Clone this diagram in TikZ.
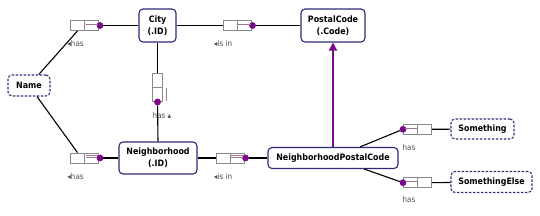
\documentclass[tikz,border=0pt]{standalone}
\usepackage{fontspec}
\setmainfont{DejaVu Sans Condensed}
\usetikzlibrary{arrows.meta}
\definecolor{entb}{HTML}{2B2B7A}
\definecolor{valb}{HTML}{3A2A70}
\definecolor{ormpurple}{HTML}{7A0A8A}
\definecolor{rolegray}{HTML}{8A8A8A}
\definecolor{ucbar}{HTML}{A07896}
\definecolor{lblgray}{HTML}{505050}
\newcommand{\rdl}{{\fontsize{8}{8}\selectfont\raisebox{0.3pt}{◂}}}
\newcommand{\rdu}{{\fontsize{8}{8}\selectfont▴}}
\begin{document}
\begin{tikzpicture}[x=1pt,y=-1pt,
  entity/.style={draw=entb,line width=1.1pt,rounded corners=4pt,fill=white,inner sep=0pt,align=center,font=\fontsize{8.8}{12}\selectfont\bfseries},
  valtype/.style={entity,draw=valb,dashed,dash pattern=on 2.5pt off 1.5pt},
  rolebox/.style={draw=rolegray,line width=0.8pt,fill=white,minimum width=14pt,minimum height=10pt,inner sep=0pt},
  vrolebox/.style={rolebox,minimum width=10pt,minimum height=14pt},
  mand/.style={circle,fill=ormpurple,minimum size=6.5pt,inner sep=0pt},
  conn/.style={draw=black,line width=1.1pt},
  ucb/.style={draw=ucbar,line width=0.9pt},
  lbl/.style={font=\fontsize{8}{9}\selectfont,text=lblgray,inner sep=0pt}
]
\useasboundingbox (0,0) rectangle (540,216);

% entities
\node[entity,minimum width=37pt,minimum height=33pt] (city) at (157.5,25.5) {City\\(.ID)};
\node[entity,minimum width=64pt,minimum height=33pt] (postal) at (333,25.5) {PostalCode\\(.Code)};
\node[entity,minimum width=78pt,minimum height=32pt] (neigh) at (158,158) {Neighborhood\\(.ID)};
\node[entity,minimum width=130pt,minimum height=21pt] (npc) at (333,158) {NeighborhoodPostalCode};
\node[valtype,minimum width=42pt,minimum height=21pt] (name) at (29,85.5) {Name};
\node[valtype,minimum width=63pt,minimum height=20pt] (something) at (482.5,129) {Something};
\node[valtype,minimum width=81pt,minimum height=21pt] (selse) at (491.5,182) {SomethingElse};

% fact types
\node[rolebox] (f1a) at (77.5,25.5) {};
\node[rolebox] (f1b) at (91.5,25.5) {};
\node[mand] (f1d) at (100,25.5) {};

\node[rolebox] (f2a) at (230,25.5) {};
\node[rolebox] (f2b) at (244,25.5) {};
\node[mand] (f2d) at (252.5,25.5) {};

\node[vrolebox] (f3a) at (157.5,80) {};
\node[vrolebox] (f3b) at (157.5,94) {};
\node[mand] (f3d) at (157.5,102) {};

\node[rolebox] (f4a) at (77.5,158) {};
\node[rolebox] (f4b) at (91.5,158) {};
\node[mand] (f4d) at (100,158) {};

\node[rolebox] (f5a) at (223,158) {};
\node[rolebox] (f5b) at (237,158) {};
\node[mand] (f5d) at (245.5,158) {};

\node[rolebox] (f6a) at (410.5,129.3) {};
\node[rolebox] (f6b) at (424.5,129.3) {};
\node[mand] (f6d) at (403,129.3) {};

\node[rolebox] (f7a) at (410.5,182.7) {};
\node[rolebox] (f7b) at (424.5,182.7) {};
\node[mand] (f7d) at (403,182.7) {};

% connectors
\draw[conn] (name) -- (f1a.south);
\draw[conn] (f1d) -- (city);
\draw[conn] (name) -- (f4a.north);
\draw[conn] (f4d) -- (neigh);
\draw[conn] (city.east) -- (f2a.west);
\draw[conn] (f2d) -- (postal);
\draw[conn] (city.south) -- (f3a.north);
\draw[conn] (f3d) -- (neigh.north);
\draw[conn] (neigh.east) -- (f5a.west);
\draw[conn] (f5d) -- (npc);
\draw[conn] (npc) -- (f6d);
\draw[conn] (f6b.east) -- (something);
\draw[conn] (npc) -- (f7d);
\draw[conn] (f7b.east) -- (selse);

% redraw dots on top of lines
\foreach \d in {f1d,f2d,f3d,f4d,f5d,f6d,f7d} {\fill[ormpurple] (\d) circle (3.25pt);}

% subtype arrow
\draw[draw=ormpurple,line width=1.8pt,-{Triangle[length=8pt,width=8pt]}] (npc.north) -- (postal.south);

% uniqueness bars
\draw[ucb] ([xshift=1.5pt,yshift=-4.5pt]f1b.north west) -- ([xshift=-0.5pt,yshift=-4.5pt]f1b.north east);
\draw[ucb] ([xshift=1.5pt,yshift=-4.5pt]f2b.north west) -- ([xshift=-0.5pt,yshift=-4.5pt]f2b.north east);
\draw[ucb] ([xshift=3.5pt,yshift=-1pt]f3b.north east) -- ([xshift=3.5pt,yshift=0pt]f3b.south east);
\draw[ucb] ([xshift=1.5pt,yshift=-4.5pt]f4b.north west) -- ([xshift=-1.5pt,yshift=-4.5pt]f4b.north east);
\draw[ucb] ([xshift=1.5pt,yshift=-2.5pt]f4b.north west) -- ([xshift=-0.5pt,yshift=-2.5pt]f4b.north east);
\draw[ucb] ([xshift=1.5pt,yshift=-4.5pt]f5b.north west) -- ([xshift=-1.5pt,yshift=-4.5pt]f5b.north east);
\draw[ucb] ([xshift=1.5pt,yshift=-2.5pt]f5b.north west) -- ([xshift=-0.5pt,yshift=-2.5pt]f5b.north east);
\draw[ucb] ([xshift=1.5pt,yshift=-4.5pt]f6a.north west) -- ([xshift=-1pt,yshift=-4.5pt]f6a.north east);
\draw[ucb] ([xshift=1.5pt,yshift=-4.5pt]f7a.north west) -- ([xshift=-1pt,yshift=-4.5pt]f7a.north east);

% labels
\node[lbl] (l1) at (75.5,44) {\rdl{}has};
\node[lbl] (l2) at (223,44) {\rdl{}is in};
\node[lbl] (l3) at (162,116) {has \rdu};
\node[lbl] (l4) at (75.5,177) {\rdl{}has};
\node[lbl] (l5) at (223,177) {\rdl{}is in};
\node[lbl] (l6) at (409,148) {has};
\node[lbl] (l7) at (409,200) {has};
\end{tikzpicture}
\end{document}
